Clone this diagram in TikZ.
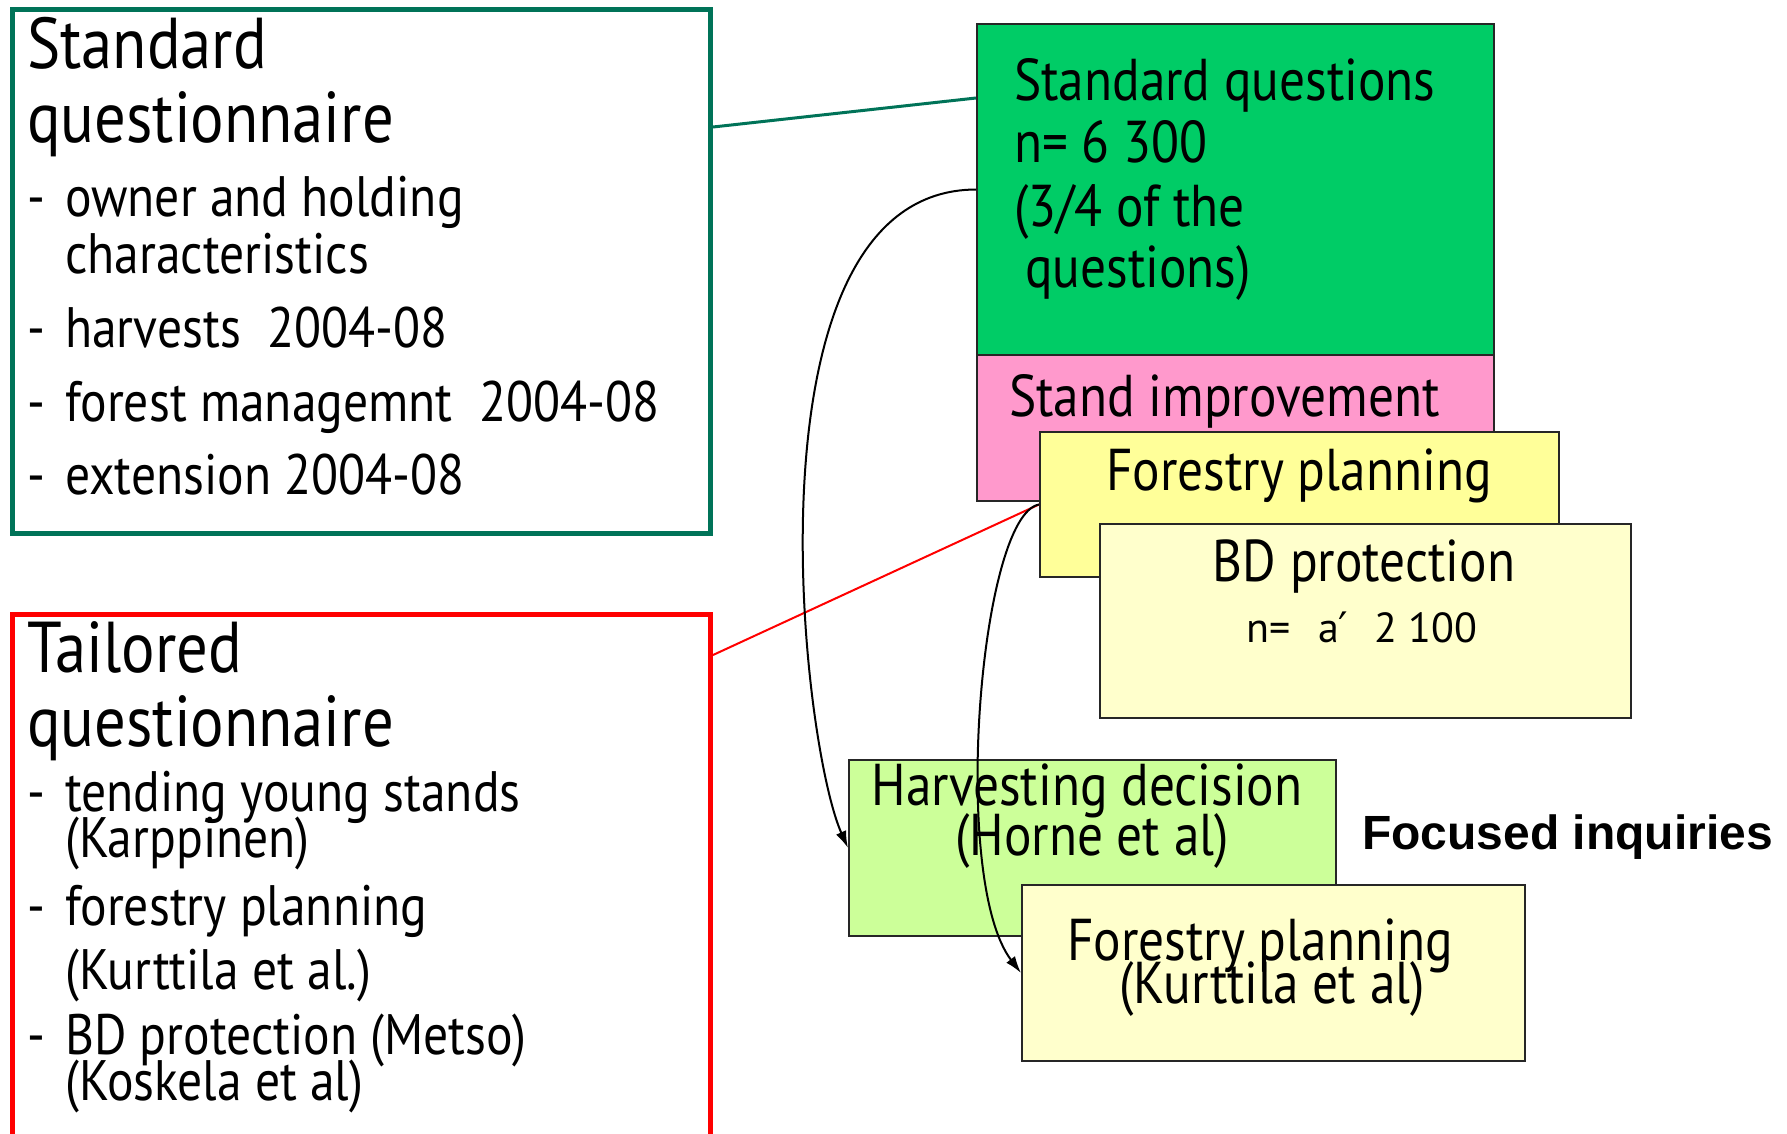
\documentclass[tikz,border=0pt]{standalone}
\usepackage{fontspec}
\setmainfont[FakeStretch=0.87]{PT Sans}
\newfontfamily\plainfont{PT Sans}
\newfontfamily\headfont{Liberation Sans}
\newfontfamily\primefont{DejaVu Sans}
\usetikzlibrary{calc, arrows.meta}
\definecolor{StdTeal}{HTML}{007358}
\definecolor{StdGreen}{HTML}{00CC66}
\definecolor{ImpPink}{HTML}{FF99CC}
\definecolor{PlanYellow}{HTML}{FFFF99}
\definecolor{PaleYellow}{HTML}{FFFFCC}
\definecolor{HarvGreen}{HTML}{CCFF99}
\tikzset{
    qbox/.style={draw, line width=5pt, inner sep=0pt, anchor=north west},
    topic/.style={draw=black!85, line width=2pt, inner sep=0pt, anchor=north west},
    ttl/.style={anchor=base west, inner sep=0pt, font=\fontsize{72}{76}\selectfont},
    itm/.style={anchor=base west, inner sep=0pt, font=\fontsize{57}{60}\selectfont},
    blk/.style={anchor=base west, inner sep=0pt, font=\fontsize{59}{62}\selectfont},
    ctr/.style={anchor=base, inner sep=0pt, font=\fontsize{59}{62}\selectfont},
    link/.style={line width=2pt, -{Latex[length=17pt, width=11pt]}}
}

\begin{document}
\begin{tikzpicture}[x=1pt, y=-1pt]
    % =========================================
    % 1. Frame
    % =========================================
    \useasboundingbox (0,0) rectangle (1787,1133);
    \clip (0,0) rectangle (1787,1133);

    % =========================================
    % 2. Questionnaires (left)
    % =========================================
    \node[qbox, draw=StdTeal, minimum width=698pt, minimum height=524pt] (sqbox) at (10,7) {};
    \node[qbox, draw=red, minimum width=698pt, minimum height=560pt] (tqbox) at (10,612) {};

    \node[ttl] (sq-t1) at (27,68) {Standard};
    \node[ttl] (sq-t2) at (27,142) {questionnaire};
    \foreach \y/\d/\t [count=\i] in {216/-/owner and holding, 273//characteristics,
        347/-/{harvests\ \ 2004-08}, 421/-/{forest managemnt\ \ 2004-08}, 494/-/extension 2004-08} {
        \node[itm] (sq-d\i) at (27,\y) {\d};
        \node[itm] (sq-\i) at (65,\y) {\t};
    }

    \node[ttl] (tq-t1) at (27,672) {Tailored};
    \node[ttl] (tq-t2) at (27,746) {questionnaire};
    \foreach \y/\d/\t [count=\i] in {811/-/tending young stands, 857//(Karppinen),
        925/-/forestry planning, 989//(Kurttila et al.),
        1054/-/BD protection (Metso), 1100//(Koskela et al)} {
        \node[itm] (tq-d\i) at (27,\y) {\d};
        \node[itm] (tq-\i) at (65,\y) {\t};
    }

    % =========================================
    % 3. Question blocks (right)
    % =========================================
    \node[topic, fill=StdGreen, minimum width=517pt, minimum height=331pt] (stdq) at (976,23) {};
    \node[topic, fill=ImpPink, minimum width=517pt, minimum height=146pt] (imp) at (976,354) {};
    \node[topic, fill=PlanYellow, minimum width=519pt, minimum height=145pt] (plan) at (1039,431) {};
    \node[topic, fill=PaleYellow, minimum width=531pt, minimum height=194pt] (bd) at (1099,523) {};
    \node[topic, fill=HarvGreen, minimum width=487pt, minimum height=176pt] (harv) at (848,759) {};
    \node[topic, fill=PaleYellow, minimum width=503pt, minimum height=176pt] (kurt) at (1021,884) {};

    \foreach \y/\x/\t [count=\i] in {100/1014/Standard questions, 162/1014/n= 6 300,
        226/1014/{(3/4 of the}, 287/1025/{questions)}} {
        \node[blk] (stdq-\i) at (\x,\y) {\t};
    }
    \node[blk] (imp-1) at (1009,416) {Stand improvement};
    \node[ctr] (plan-1) at (1299,490) {Forestry planning};
    \node[ctr] (bd-1) at (1364,581) {BD protection};
    \node[ctr, font=\plainfont\fontsize{42}{46}\selectfont] (bd-2) at (1362,642)
        {n=\hspace{27pt}a{\primefont ′}\hspace{26pt}2 100};
    \node[ctr] (harv-1) at (1087,805) {Harvesting decision};
    \node[ctr] (harv-2) at (1092,855) {(Horne et al)};
    \node[ctr] (kurt-1) at (1260,960) {Forestry planning};
    \node[ctr] (kurt-2) at (1272,1003) {(Kurttila et al)};

    \node[anchor=base west, inner sep=0pt, font=\headfont\bfseries\fontsize{48}{52}\selectfont]
        (focus) at (1362,849) {Focused inquiries};

    % =========================================
    % 4. Connectors
    % =========================================
    \draw[StdTeal, line width=3pt] ($(sqbox.north east)+(0,120)$) -- ($(stdq.north west)+(0,75)$);
    \draw[red, line width=2pt] ($(tqbox.north east)+(0,43)$) -- (plan.west);
    \draw[link] (stdq.west) .. controls (740,190) and (800,740) .. (harv.west);
    \draw[link] (plan.west) .. controls (980,515) and (950,880) .. (kurt.west);

\end{tikzpicture}
\end{document}
